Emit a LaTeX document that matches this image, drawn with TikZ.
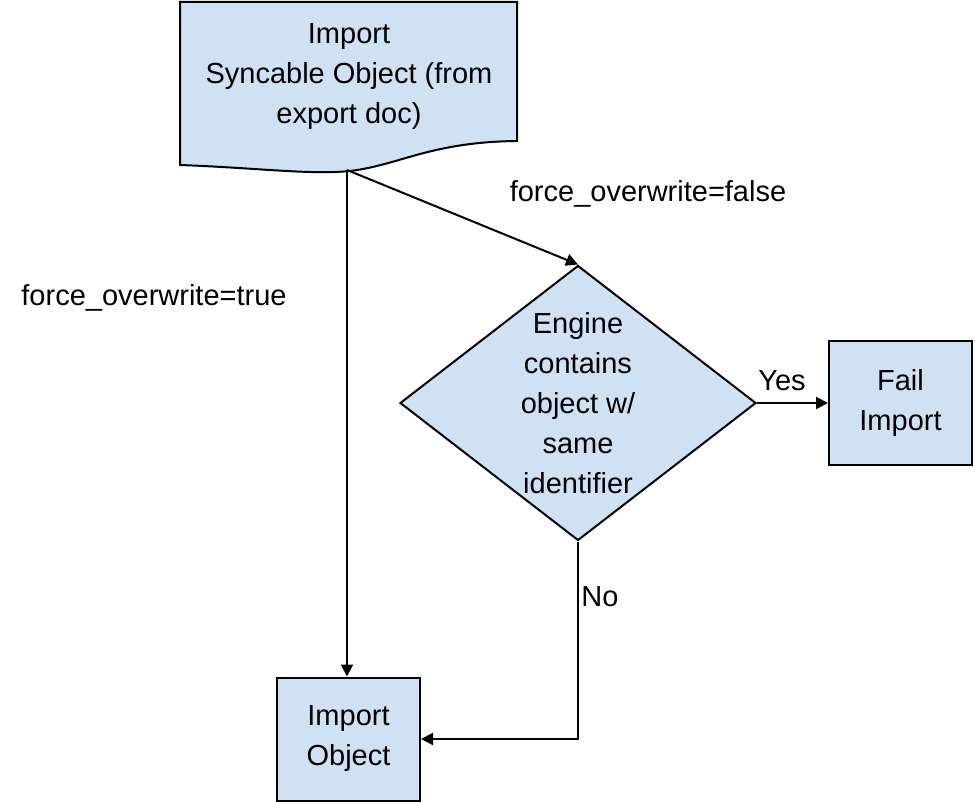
\documentclass[tikz,border=0pt]{standalone}
\usepackage{fontspec}
\setmainfont{Liberation Sans}
\usetikzlibrary{shapes.geometric, arrows.meta}

\definecolor{boxblue}{HTML}{CFE2F3}

\begin{document}
\begin{tikzpicture}[x=0.5pt, y=-0.5pt, >={Triangle[length=6pt, width=6pt]},
    every node/.style={font=\fontsize{14.5}{20}\selectfont, align=center},
    procbox/.style={draw, line width=1pt, fill=boxblue, minimum width=71.5pt, minimum height=61.5pt, inner sep=0pt},
    decision/.style={diamond, draw, line width=1pt, fill=boxblue, aspect=1.29, minimum width=178pt, minimum height=137.5pt, inner sep=-5pt},
    link/.style={->, line width=1pt}]
    \useasboundingbox (0,0) rectangle (975,802);

    % document shape
    \draw[line width=1pt, fill=boxblue] (180,2) -- (517,2) -- (517,141)
        .. controls (430,142) and (400,165) .. (350,171)
        .. controls (310,175) and (260,168) .. (180,165) -- cycle;
    \node (doc) at (349,77) {Import\\Syncable Object (from\\export doc)};
    \coordinate (docout) at (347,170);

    \node[decision] (decide) at (578,403) {Engine\\contains\\object w/\\same\\identifier};
    \node[procbox] (fail) at (900.5,403) {Fail\\Import};
    \node[procbox] (importobj) at (348.5,739) {Import\\Object};

    \draw[link] (docout) -- (docout |- importobj.north);
    \draw[link] (docout) -- (decide.north);
    \draw[link] (decide.east) -- (fail.west);
    \draw[link] (decide.south) |- (importobj.east);

    \node (lblfalse) at (648,194) {force\_overwrite=false};
    \node (lbltrue) at (154,298) {force\_overwrite=true};
    \node (lblyes) at (782,381) {Yes};
    \node (lblno) at (600,597) {No};
\end{tikzpicture}
\end{document}
